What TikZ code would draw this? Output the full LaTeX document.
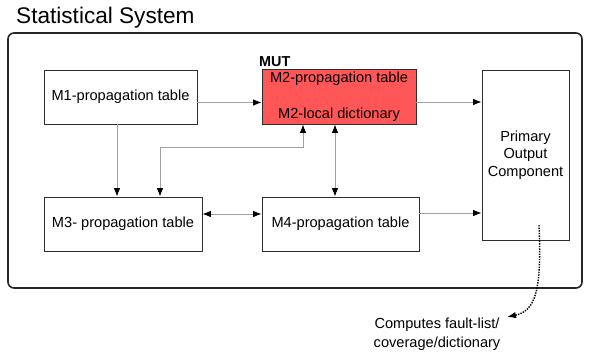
\documentclass[tikz,border=0pt]{standalone}
\usepackage{fontspec}
\setmainfont{Liberation Sans}
\usetikzlibrary{arrows.meta}
\definecolor{mutred}{RGB}{255,87,87}
\definecolor{linkgray}{RGB}{160,160,160}
\definecolor{boxline}{RGB}{45,45,45}
\tikzset{
  box/.style={draw=boxline, line width=.8pt, fill=white, inner sep=2pt,
    font=\fontsize{14.6}{17.5}\selectfont, align=center},
  link/.style={draw=linkgray, line width=.9pt,
    -{Latex[length=8.5pt,width=6.5pt,color=black]}},
  twolink/.style={draw=linkgray, line width=.9pt,
    {Latex[length=8.5pt,width=6.5pt,color=black]}-{Latex[length=8.5pt,width=6.5pt,color=black]}}
}
\begin{document}
\begin{tikzpicture}[x=1pt, y=-1pt]
\useasboundingbox (0,0) rectangle (590,354);
% outer frame and title
\draw[line width=1.6pt, rounded corners=6pt, draw=black!85] (8,33) rectangle (582,288);
\node (title) at (16,23)[anchor=base west, inner sep=0pt, font=\fontsize{22.6}{26}\selectfont]{Statistical System};
% modules
\node (m1) at (120.5,97)[box, minimum width=153, minimum height=54]{M1-propagation table};
\node (m2) at (339,96.5)[box, fill=mutred, minimum width=154, minimum height=55]{M2-propagation table\\[19pt]M2-local dictionary};
\node (mut) at (259,66)[anchor=base west, inner sep=0pt, font=\fontsize{14.4}{17}\selectfont\bfseries]{MUT};
\node (po) at (525.5,155)[box, minimum width=87, minimum height=170]{Primary\\Output\\Component};
\node (m3) at (123,224)[box, minimum width=158, minimum height=54]{M3- propagation table};
\node (m4) at (340.5,224)[box, minimum width=157, minimum height=54]{M4-propagation table};
\node (note) at (437,334)[align=center, inner sep=0pt, font=\fontsize{14.6}{18.5}\selectfont]{Computes fault-list/\\coverage/dictionary};
% connectors
\coordinate (a) at ([yshift=-5.5pt]m1.east);
\draw[link] (a) -- (a -| m2.west);
\coordinate (b) at ([yshift=-5.5pt]m2.east);
\draw[link] (b) -- (b -| po.west);
\coordinate (c) at ([xshift=-3.5pt]m1.south);
\draw[link] (c) -- (c |- m3.north);
\coordinate (d) at ([xshift=-36pt]m2.south);
\draw[twolink] (d) |- (160,147) -- (160,147 |- m3.north);
\coordinate (e) at ([xshift=-4pt]m2.south);
\draw[twolink] (e) -- (e |- m4.north);
\coordinate (f) at ([yshift=10pt]m3.east);
\draw[twolink] (f) -- (f -| m4.west);
\coordinate (g) at ([yshift=11pt]m4.east);
\draw[link] (g) -- (g -| po.west);
% result of the primary output
\coordinate (src) at ([xshift=13.5pt,yshift=-70pt]po.center);
\coordinate (tip) at (507,317);
\draw[line width=1.4pt, dash pattern=on 1.4pt off 1.2pt, -{Latex[length=9pt,width=6.5pt]}] (src) .. controls (542,292) and (535,311) .. (tip);
\end{tikzpicture}
\end{document}
